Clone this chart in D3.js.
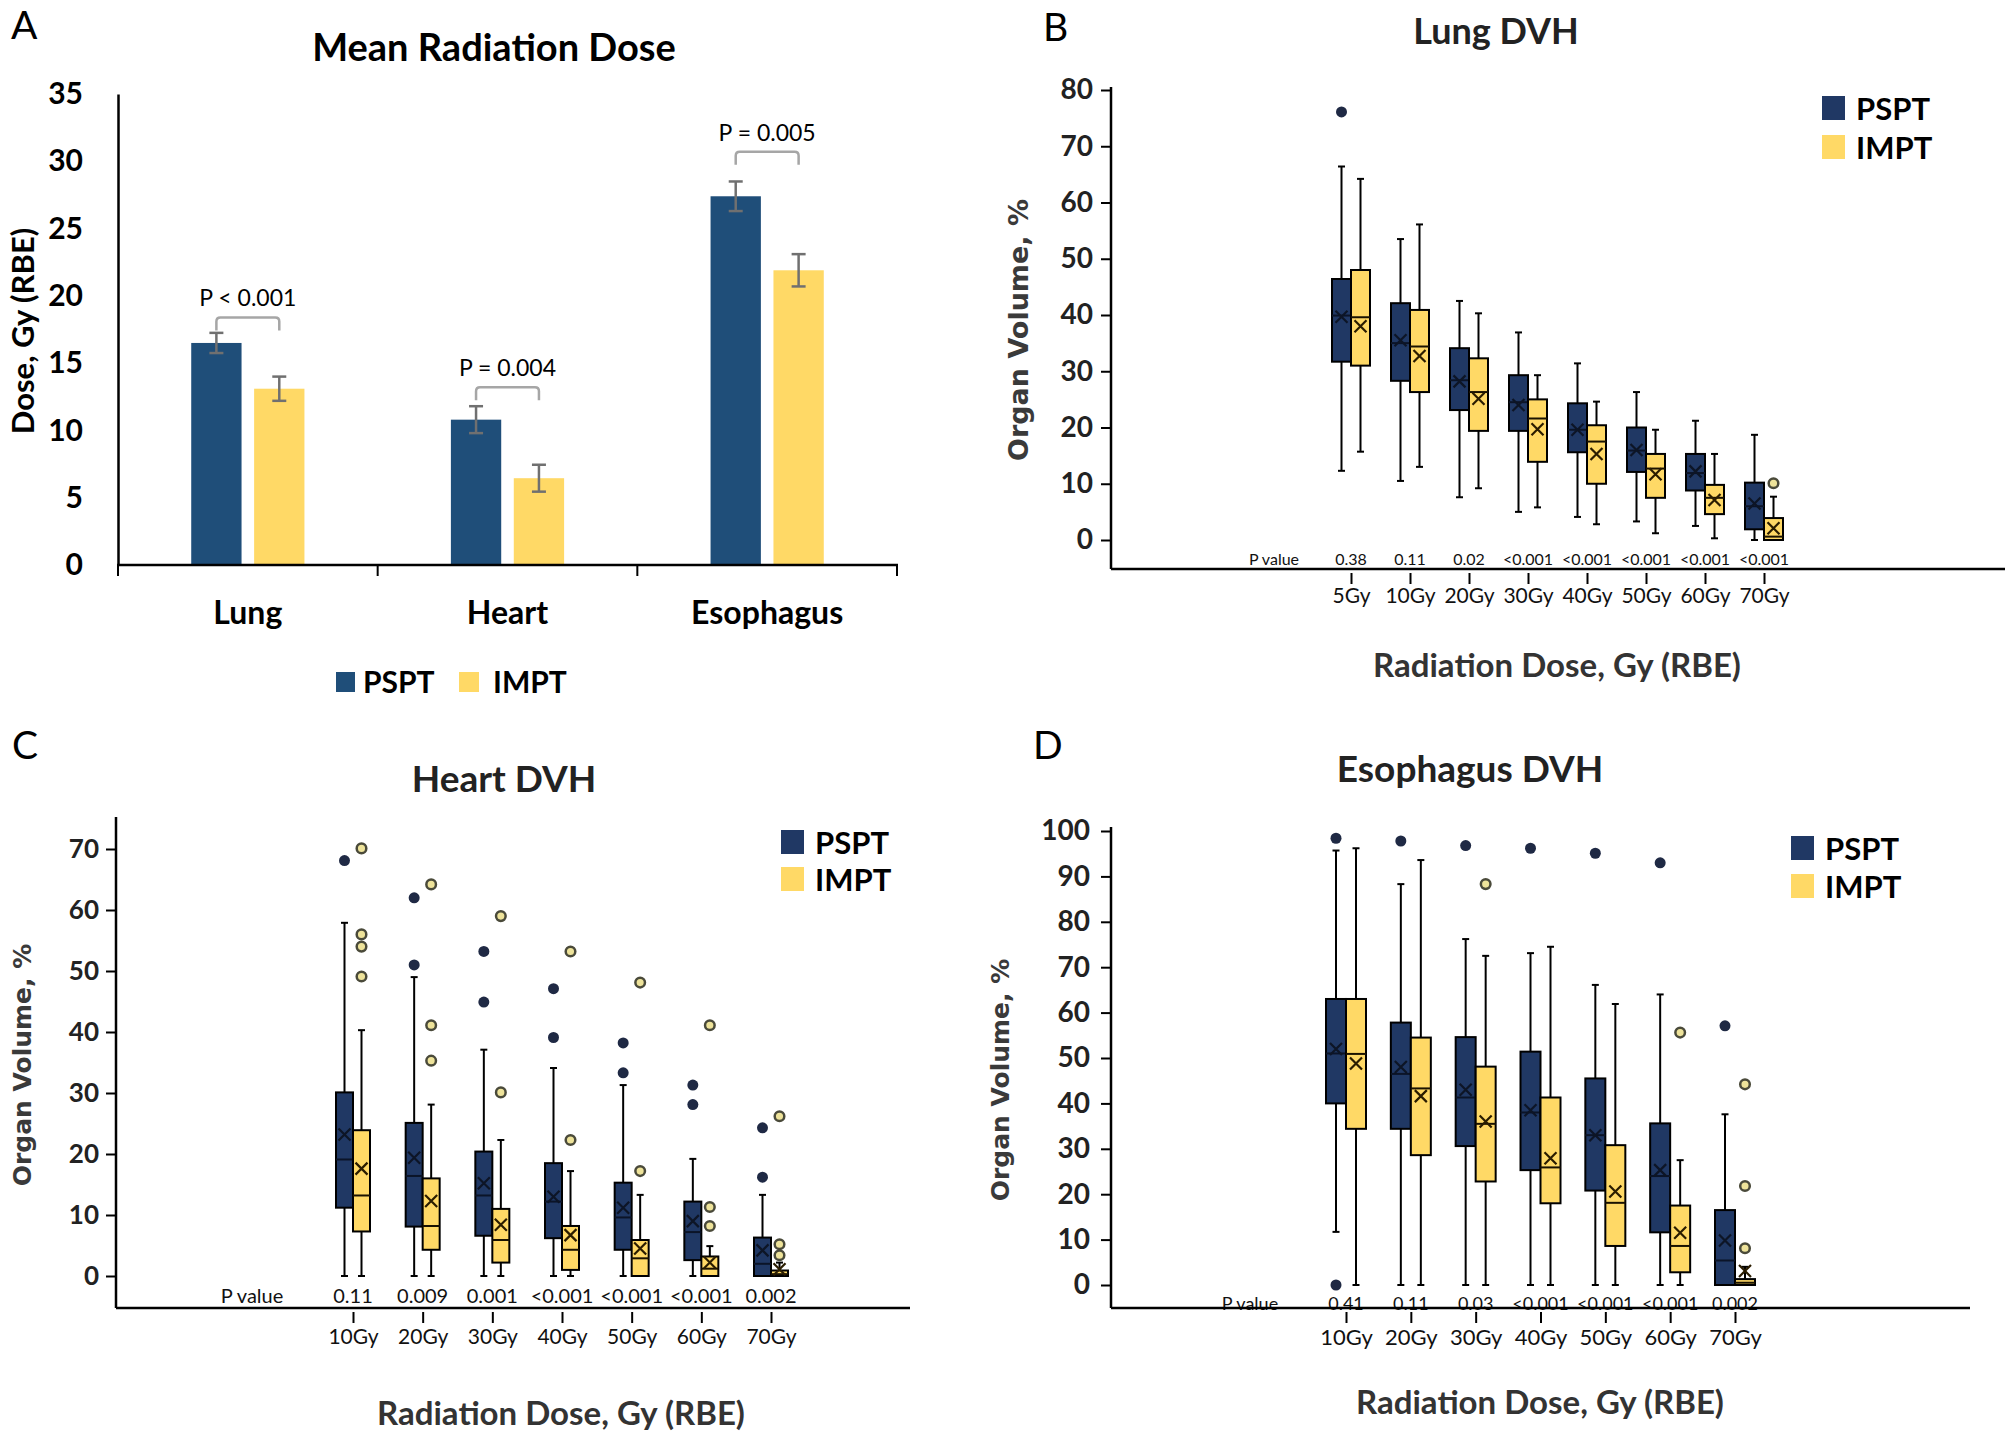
<!DOCTYPE html>
<html><head><meta charset="utf-8">
<script src="https://cdn.jsdelivr.net/npm/d3@7"></script>
<style>body{margin:0;background:#fff}</style>
</head><body>
<svg id="chart" width="2010" height="1433"></svg>
<script>
// ================= DATA =================
// Panel A: mean dose
const organs = ["Lung", "Heart", "Esophagus"];
const seriesNames = ["PSPT", "IMPT"];
const meanDosePSPT = [16.5, 10.8, 27.4];
const meanDoseIMPT = [13.1, 6.45, 21.9];
const errPSPT = [0.75, 1.0, 1.1];
const errIMPT = [0.9, 1.0, 1.2];
const meanPLabels = ["P < 0.001", "P = 0.004", "P = 0.005"];
const bracketLevel = [18.4, 13.2, 30.7];
const doseTicks = [0, 5, 10, 15, 20, 25, 30, 35];

// Box stats: [whiskerLow, q1, median, q3, whiskerHigh, mean]
// Panel B: Lung DVH
const lungDoses = ["5Gy", "10Gy", "20Gy", "30Gy", "40Gy", "50Gy", "60Gy", "70Gy"];
const lungPValues = ["0.38", "0.11", "0.02", "<0.001", "<0.001", "<0.001", "<0.001", "<0.001"];
const lungPSPT = [
  [12.3, 31.7, 39.9, 46.4, 66.4, 39.7],
  [10.5, 28.3, 35.0, 42.1, 53.5, 35.5],
  [7.6, 23.1, 28.4, 34.1, 42.5, 28.2],
  [5.0, 19.4, 24.5, 29.3, 36.9, 24.0],
  [4.1, 15.6, 19.6, 24.3, 31.4, 19.6],
  [3.3, 12.1, 15.9, 20.0, 26.3, 16.0],
  [2.5, 8.8, 11.9, 15.3, 21.2, 12.2],
  [0, 1.9, 6.0, 10.2, 18.7, 6.5]
];
const lungIMPT = [
  [15.7, 31.0, 39.6, 48.0, 64.2, 38.0],
  [13.0, 26.3, 34.4, 40.9, 56.1, 32.7],
  [9.2, 19.4, 26.3, 32.3, 40.3, 25.1],
  [5.8, 13.9, 21.6, 25.0, 29.3, 19.7],
  [2.8, 10.0, 17.5, 20.4, 24.6, 15.3],
  [1.2, 7.5, 12.7, 15.3, 19.6, 11.7],
  [0.3, 4.6, 7.5, 9.8, 15.3, 7.1],
  [0, 0, 0.6, 3.9, 7.7, 2.1]
];
const lungPSPTOutliers = [[76.1], [], [], [], [], [], [], []];
const lungIMPTOutliers = [[], [], [], [], [], [], [], [10.1]];
const lungTicks = [0, 10, 20, 30, 40, 50, 60, 70, 80];

// Panel C: Heart DVH
const heartDoses = ["10Gy", "20Gy", "30Gy", "40Gy", "50Gy", "60Gy", "70Gy"];
const heartPValues = ["0.11", "0.009", "0.001", "<0.001", "<0.001", "<0.001", "0.002"];
const heartPSPT = [
  [0, 11.2, 19.1, 30.1, 57.9, 23.2],
  [0, 8.1, 16.4, 25.1, 49.0, 19.4],
  [0, 6.6, 13.2, 20.4, 37.1, 15.2],
  [0, 6.2, 12.2, 18.5, 34.1, 13.0],
  [0, 4.3, 9.6, 15.3, 31.3, 11.2],
  [0, 2.6, 7.2, 12.2, 19.2, 9.0],
  [0, 0, 2.0, 6.3, 13.3, 4.2]
];
const heartIMPT = [
  [0, 7.3, 13.2, 23.9, 40.3, 17.6],
  [0, 4.3, 8.2, 16.0, 28.1, 12.3],
  [0, 2.2, 5.9, 11.0, 22.3, 8.4],
  [0, 1.0, 4.3, 8.2, 17.2, 6.7],
  [0, 0, 2.9, 5.9, 13.3, 4.5],
  [0, 0, 1.2, 3.2, 4.9, 2.2],
  [0, 0, 0.3, 0.9, 2.2, 1.1]
];
const heartPSPTOutliers = [[68.1], [62.0, 51.0], [53.2, 44.9], [47.1, 39.1], [38.2, 33.3], [31.3, 28.1], [24.3, 16.2]];
const heartIMPTOutliers = [[70.1, 56.0, 54.0, 49.1], [64.2, 41.1, 35.3], [59.0, 30.1], [53.2, 22.3], [48.1, 17.2], [41.1, 11.3, 8.2], [26.2, 5.2, 3.4]];
const heartTicks = [0, 10, 20, 30, 40, 50, 60, 70];

// Panel D: Esophagus DVH
const esoDoses = ["10Gy", "20Gy", "30Gy", "40Gy", "50Gy", "60Gy", "70Gy"];
const esoPValues = ["0.41", "0.11", "0.03", "<0.001", "<0.001", "<0.001", "0.002"];
const esoPSPT = [
  [11.7, 40.0, 51.0, 63.0, 95.7, 52.0],
  [0, 34.4, 46.5, 57.8, 88.3, 48.0],
  [0, 30.6, 41.3, 54.6, 76.2, 43.0],
  [0, 25.3, 38.0, 51.4, 73.1, 38.5],
  [0, 20.8, 33.0, 45.5, 66.1, 33.0],
  [0, 11.6, 24.0, 35.6, 64.0, 25.3],
  [0, 0, 5.4, 16.5, 37.6, 9.8]
];
const esoIMPT = [
  [0, 34.4, 50.9, 63.0, 96.2, 48.8],
  [0, 28.6, 43.3, 54.5, 93.6, 41.6],
  [0, 22.8, 35.5, 48.1, 72.5, 36.0],
  [0, 18.0, 25.9, 41.3, 74.5, 27.9],
  [0, 8.6, 18.1, 30.8, 61.9, 20.6],
  [0, 2.8, 8.6, 17.5, 27.5, 11.5],
  [0, 0, 0.5, 1.3, 4.0, 3.1]
];
const esoPSPTOutliers = [[98.4, 0], [97.8], [96.8], [96.2], [95.1], [93.0], [57.1]];
const esoIMPTOutliers = [[], [], [88.3], [], [], [55.6], [44.2, 21.8, 8.1]];
const esoTicks = [0, 10, 20, 30, 40, 50, 60, 70, 80, 90, 100];

// ================= DRAWING =================
const FONT = "Lato, 'Open Sans', 'Liberation Sans', sans-serif";
const WIDEFONT = "'DejaVu Sans', Verdana, sans-serif";
const svg = d3.select("#chart");
svg.append("rect").attr("width", 2010).attr("height", 1433).attr("fill", "#fff");

function txt(g, x, y, s, size, opts = {}) {
  return g.append("text").attr("x", x).attr("y", y).text(s)
    .attr("font-family", opts.family || FONT)
    .attr("font-size", size)
    .attr("font-weight", opts.weight || "normal")
    .attr("fill", opts.fill || "#000")
    .attr("text-anchor", opts.anchor || "start");
}

// Panel letters
txt(svg, 11, 39, "A", 39);
txt(svg, 1043, 41, "B", 39);
txt(svg, 12, 759, "C", 39);
txt(svg, 1033, 759, "D", 39);

// ---------- Panel A ----------
(function () {
  const g = svg.append("g");
  const colA = { PSPT: "#1F4E79", IMPT: "#FFD966" };
  const x0 = d3.scaleBand().domain(organs).range([118, 897]);
  const x1 = d3.scaleBand().domain(seriesNames).range([x0.bandwidth() * 0.282, x0.bandwidth() * 0.718]).paddingInner(0.2);
  const y = d3.scaleLinear().domain([0, 35]).range([565, 94]);

  txt(g, 494, 61, "Mean Radiation Dose", 38, { weight: "bold", anchor: "middle" });

  const ya = g.append("g").attr("transform", "translate(118,0)")
    .call(d3.axisLeft(y).tickValues(doseTicks).tickSize(0).tickSizeOuter(0).tickPadding(35));
  ya.select(".domain").attr("stroke", "#000").attr("stroke-width", 2.5);
  ya.selectAll("text").attr("font-family", FONT).attr("font-weight", "bold").attr("font-size", 30).attr("fill", "#000");

  const vals = { PSPT: meanDosePSPT, IMPT: meanDoseIMPT };
  const errs = { PSPT: errPSPT, IMPT: errIMPT };
  organs.forEach((o, i) => {
    seriesNames.forEach(s => {
      const bx = x0(o) + x1(s);
      g.append("rect").attr("x", bx).attr("y", y(vals[s][i]))
        .attr("width", x1.bandwidth()).attr("height", y(0) - y(vals[s][i]))
        .attr("fill", colA[s]);
      const cx = bx + x1.bandwidth() / 2;
      const hi = y(vals[s][i] + errs[s][i]), lo = y(vals[s][i] - errs[s][i]);
      g.append("line").attr("x1", cx).attr("x2", cx).attr("y1", hi).attr("y2", lo).attr("stroke", "#707070").attr("stroke-width", 2.5);
      [hi, lo].forEach(yy => g.append("line").attr("x1", cx - 7).attr("x2", cx + 7).attr("y1", yy).attr("y2", yy).attr("stroke", "#707070").attr("stroke-width", 2.5));
    });
    // bracket
    const xa = x0(o) + x1("PSPT") + x1.bandwidth() / 2;
    const xb = x0(o) + x1("IMPT") + x1.bandwidth() / 2;
    const yt = y(bracketLevel[i]);
    const yl = yt + 13, r = 4;
    g.append("path")
      .attr("d", `M${xa},${yl} L${xa},${yt + r} Q${xa},${yt} ${xa + r},${yt} L${xb - r},${yt} Q${xb},${yt} ${xb},${yt + r} L${xb},${yl}`)
      .attr("fill", "none").attr("stroke", "#a6a6a6").attr("stroke-width", 2.5);
    txt(g, (xa + xb) / 2, yt - 11, meanPLabels[i], 23, { anchor: "middle" });
    // category label
    txt(g, x0(o) + x0.bandwidth() / 2, 624, o, 32, { weight: "bold", anchor: "middle" });
  });

  // x axis
  g.append("line").attr("x1", 117).attr("x2", 898).attr("y1", 565).attr("y2", 565).attr("stroke", "#000").attr("stroke-width", 2.5);
  const bounds = organs.map(o => x0(o)).concat([x0.range()[1]]);
  bounds.forEach(bx => g.append("line").attr("x1", bx).attr("x2", bx).attr("y1", 565).attr("y2", 576).attr("stroke", "#000").attr("stroke-width", 2));

  // y title
  txt(g, 0, 0, "Dose, Gy (RBE)", 31, { weight: "bold", anchor: "middle" })
    .attr("transform", "translate(34,331) rotate(-90)");

  // legend
  g.append("rect").attr("x", 336).attr("y", 672).attr("width", 19).attr("height", 20).attr("fill", colA.PSPT);
  txt(g, 363, 693, "PSPT", 30, { weight: "bold" });
  g.append("rect").attr("x", 459).attr("y", 672).attr("width", 20).attr("height", 20).attr("fill", colA.IMPT);
  txt(g, 493, 693, "IMPT", 30, { weight: "bold" });
})();

// ---------- Box panels ----------
const colBox = { PSPT: "#203864", IMPT: "#FFD966" };

function boxPanel(o) {
  const g = svg.append("g");
  const y = d3.scaleLinear().domain([0, o.yMax]).range([o.y0, o.yTopPx]);
  const x = d3.scalePoint().domain(o.cats).range([o.xFirst, o.xLast]);

  // title
  txt(g, o.titleX, o.titleY, o.title, o.titleSize, { weight: "bold", anchor: "middle", fill: "#222" });

  // y axis
  const ya = g.append("g").attr("transform", `translate(${o.axisX},0)`)
    .call(d3.axisLeft(y).tickValues(o.yTicks).tickSize(10).tickSizeOuter(0).tickPadding(o.tickPad));
  ya.select(".domain").remove();
  ya.selectAll("line").attr("stroke", "#000").attr("stroke-width", 2);
  ya.selectAll("text").attr("font-family", FONT).attr("font-weight", "bold").attr("font-size", o.yTickSize).attr("fill", "#222");

  // P values row
  txt(g, o.pLabelX, o.pY, "P value", o.pSize, { anchor: "middle", fill: "#111" });
  o.cats.forEach((c, i) => txt(g, x(c), o.pY, o.pvals[i], o.pSize, { anchor: "middle", fill: "#111" }));

  // axis lines
  g.append("line").attr("x1", o.axisX).attr("x2", o.axisX).attr("y1", o.axisTopPx).attr("y2", o.axisY).attr("stroke", "#000").attr("stroke-width", 2.5);
  g.append("line").attr("x1", o.axisX).attr("x2", o.xEnd).attr("y1", o.axisY).attr("y2", o.axisY).attr("stroke", "#000").attr("stroke-width", 2.5);

  // category axis
  const xa = g.append("g").attr("transform", `translate(0,${o.axisY + 4})`)
    .call(d3.axisBottom(x).tickSize(11).tickPadding(o.catPad));
  xa.select(".domain").remove();
  xa.selectAll("line").attr("stroke", "#000").attr("stroke-width", 2);
  xa.selectAll("text").attr("font-family", FONT).attr("font-size", o.catSize).attr("fill", "#111");

  // boxes
  const bw = o.bw;
  const stats = { PSPT: o.pspt, IMPT: o.impt };
  const outs = { PSPT: o.psptOut, IMPT: o.imptOut };
  o.cats.forEach((c, i) => {
    seriesNames.forEach((s, si) => {
      const [lo, q1, med, q3, hi, mean] = stats[s][i];
      const bx = si === 0 ? x(c) - bw : x(c);
      const cx = bx + bw / 2;
      // whiskers
      g.append("line").attr("x1", cx).attr("x2", cx).attr("y1", y(hi)).attr("y2", y(q3)).attr("stroke", "#000").attr("stroke-width", 2);
      g.append("line").attr("x1", cx).attr("x2", cx).attr("y1", y(q1)).attr("y2", y(lo)).attr("stroke", "#000").attr("stroke-width", 2);
      [hi, lo].forEach(v => g.append("line").attr("x1", cx - 3.5).attr("x2", cx + 3.5).attr("y1", y(v)).attr("y2", y(v)).attr("stroke", "#000").attr("stroke-width", 2));
      // box
      g.append("rect").attr("x", bx).attr("y", y(q3)).attr("width", bw).attr("height", Math.max(1, y(q1) - y(q3)))
        .attr("fill", colBox[s]).attr("stroke", "#000").attr("stroke-width", 2);
      // median
      g.append("line").attr("x1", bx).attr("x2", bx + bw).attr("y1", y(med)).attr("y2", y(med))
        .attr("stroke", s === "PSPT" ? "#0b1428" : "#1a1200").attr("stroke-width", 2);
      // mean marker
      const ym = y(mean), h = Math.min(6, bw / 2 - 2);
      const mc = s === "PSPT" ? "#0d1526" : "#2b1d00";
      g.append("path").attr("d", `M${cx - h},${ym - h}L${cx + h},${ym + h}M${cx - h},${ym + h}L${cx + h},${ym - h}`)
        .attr("stroke", mc).attr("stroke-width", 2.2).attr("fill", "none");
      // outliers
      outs[s][i].forEach(v => {
        if (s === "PSPT") {
          g.append("circle").attr("cx", cx).attr("cy", y(v)).attr("r", 5.5).attr("fill", "#1f2944");
        } else {
          g.append("circle").attr("cx", cx).attr("cy", y(v)).attr("r", 4.8).attr("fill", "#eee39a").attr("stroke", "#4a4a3a").attr("stroke-width", 2.5);
        }
      });
    });
  });

  // titles
  txt(g, o.xTitleX, o.xTitleY, "Radiation Dose, Gy (RBE)", 33, { weight: "bold", anchor: "middle", fill: "#333" });
  txt(g, 0, 0, "Organ Volume, %", o.yTitleSize, { weight: "bold", anchor: "middle", fill: "#3a3a3a", family: WIDEFONT })
    .attr("transform", `translate(${o.yTitleX},${o.yTitleY}) rotate(-90)`)
    .attr("dominant-baseline", "central");

  // legend
  g.append("rect").attr("x", o.legX).attr("y", o.legY1).attr("width", 23).attr("height", 24).attr("fill", colBox.PSPT);
  txt(g, o.legX + 34, o.legY1 + 24, "PSPT", 31, { weight: "bold" });
  g.append("rect").attr("x", o.legX).attr("y", o.legY2).attr("width", 23).attr("height", 24).attr("fill", colBox.IMPT);
  txt(g, o.legX + 34, o.legY2 + 24, "IMPT", 31, { weight: "bold" });
}

// Panel B
boxPanel({
  title: "Lung DVH", titleX: 1496, titleY: 44, titleSize: 36,
  cats: lungDoses, pvals: lungPValues, pspt: lungPSPT, impt: lungIMPT,
  psptOut: lungPSPTOutliers, imptOut: lungIMPTOutliers,
  yMax: 80, yTicks: lungTicks, y0: 540, yTopPx: 90, axisX: 1111, axisTopPx: 87, axisY: 569, xEnd: 2005,
  xFirst: 1351, xLast: 1764, bw: 19, tickPad: 8, yTickSize: 28,
  pY: 565, pSize: 16, pLabelX: 1274, catPad: 4, catSize: 21,
  xTitleX: 1557, xTitleY: 677, yTitleX: 1018, yTitleY: 330, yTitleSize: 27,
  legX: 1822, legY1: 96, legY2: 135
});

// Panel C
boxPanel({
  title: "Heart DVH", titleX: 504, titleY: 792, titleSize: 37,
  cats: heartDoses, pvals: heartPValues, pspt: heartPSPT, impt: heartIMPT,
  psptOut: heartPSPTOutliers, imptOut: heartIMPTOutliers,
  yMax: 70, yTicks: heartTicks, y0: 1276, yTopPx: 849, axisX: 116, axisTopPx: 817, axisY: 1308, xEnd: 910,
  xFirst: 353, xLast: 771, bw: 17, tickPad: 7, yTickSize: 26,
  pY: 1303, pSize: 20, pLabelX: 252, catPad: 6, catSize: 21,
  xTitleX: 561, xTitleY: 1425, yTitleX: 22, yTitleY: 1065, yTitleSize: 25,
  legX: 781, legY1: 830, legY2: 867
});

// Panel D
boxPanel({
  title: "Esophagus  DVH", titleX: 1470, titleY: 782, titleSize: 37,
  cats: esoDoses, pvals: esoPValues, pspt: esoPSPT, impt: esoIMPT,
  psptOut: esoPSPTOutliers, imptOut: esoIMPTOutliers,
  yMax: 100, yTicks: esoTicks, y0: 1285, yTopPx: 831, axisX: 1111, axisTopPx: 827, axisY: 1308, xEnd: 1970,
  xFirst: 1346, xLast: 1735, bw: 20, tickPad: 11, yTickSize: 28,
  pY: 1310, pSize: 18, pLabelX: 1250, catPad: 6, catSize: 22,
  xTitleX: 1540, xTitleY: 1414, yTitleX: 1000, yTitleY: 1080, yTitleSize: 25,
  legX: 1791, legY1: 836, legY2: 874
});
</script>
</body></html>
